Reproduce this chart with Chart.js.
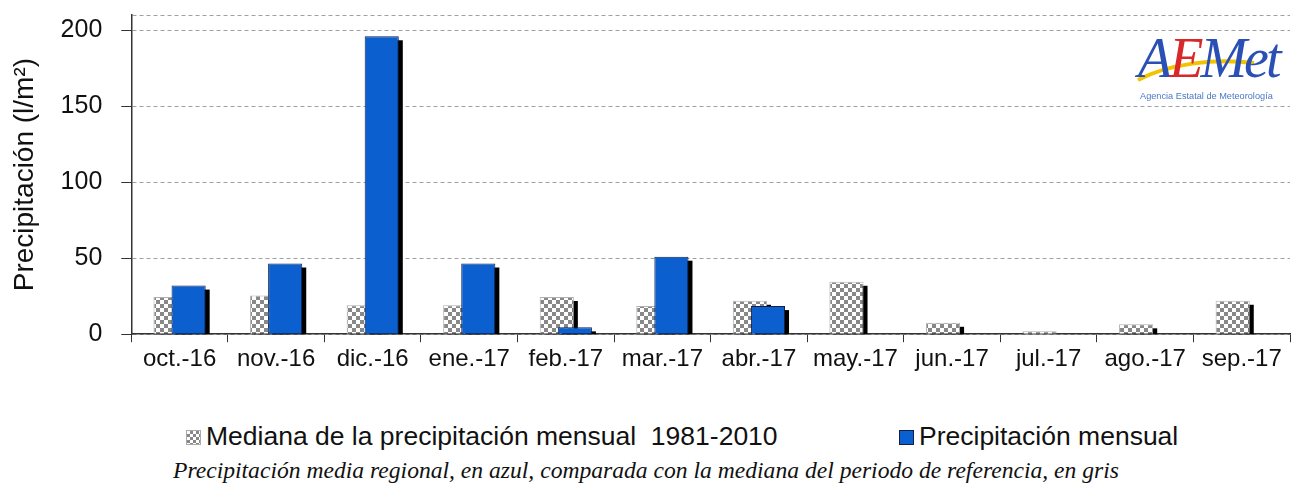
<!DOCTYPE html>
<html>
<head>
<meta charset="utf-8">
<script src="https://cdn.jsdelivr.net/npm/chart.js@4.4.1/dist/chart.umd.min.js"></script>
<style>
  html, body { margin: 0; padding: 0; background: #fff; }
  #wrap { position: relative; width: 1292px; height: 488px; overflow: hidden; font-family: 'Liberation Sans', Arial, sans-serif; }
  #chartPrecip { position: absolute; left: 0; top: 0; }
  #logo { position: absolute; left: 1134px; top: 28px; width: 156px; height: 76px; }
  #logo .word { position: absolute; left: 4px; top: -2px; font: italic 56px 'Liberation Serif', serif; letter-spacing: -3px; }
  #logo .sub { position: absolute; left: 6px; top: 63px; font-size: 9.2px; color: #4a78c4; white-space: nowrap; }
  #logo svg { position: absolute; left: 0; top: 0; }
  .leg { position: absolute; top: 421px; font-size: 26.5px; color: #111; white-space: nowrap; line-height: 30px; }
  .sw { display: inline-block; width: 15px; height: 15px; margin-right: 5px; vertical-align: 0px; box-sizing: border-box; }
  .sw.grey { border: 1px solid #aaa; background-image: conic-gradient(#888 25%, #fff 0 50%, #888 0 75%, #fff 0); background-size: 6px 6px; }
  .sw.blue { background: #0b5fcf; border: 1px solid #10204a; }
  #caption { position: absolute; top: 457px; left: 0; width: 1292px; text-align: center; font: italic 23.6px 'Liberation Serif', 'Times New Roman', serif; color: #111; }
</style>
</head>
<body>
<div id="wrap">
  <canvas id="chartPrecip" width="1292" height="380"></canvas>
  <div id="logo">
    <svg width="156" height="76"><path d="M4 52 C 34 36, 80 30, 120 35" stroke="#f2c400" stroke-width="4" fill="none"/></svg>
    <div class="word"><span style="color:#2a4fb5">A</span><span style="color:#d8282a">E</span><span style="color:#2a4fb5">Met</span></div>
    <div class="sub">Agencia Estatal de Meteorología</div>
  </div>
  <div class="leg" style="left:186px"><span class="sw grey"></span>Mediana de la precipitación mensual&nbsp; 1981-2010</div>
  <div class="leg" style="left:899px"><span class="sw blue"></span>Precipitación mensual</div>
  <div id="caption">Precipitación media regional, en azul, comparada con la mediana del periodo de referencia, en gris</div>
</div>
<script>
const labels = ['oct.-16', 'nov.-16', 'dic.-16', 'ene.-17', 'feb.-17', 'mar.-17',
  'abr.-17', 'may.-17', 'jun.-17', 'jul.-17', 'ago.-17', 'sep.-17'];
const mediana = [24.5, 25.5, 19, 19, 24.5, 18.5, 22, 34.5, 7.5, 2, 6.5, 22];
const mensual = [32, 46.5, 196, 46.5, 4.5, 51, 18.5, 0, 0, 0, 0, 0];
const yTicks = [0, 50, 100, 150, 200];
const Y_MAX = 210;

const FONT = "'Liberation Sans', Arial, sans-serif";

// checker pattern for the median bars
const pc = document.createElement('canvas');
pc.width = 8; pc.height = 8;
const pctx = pc.getContext('2d');
pctx.fillStyle = '#fff'; pctx.fillRect(0, 0, 8, 8);
pctx.fillStyle = '#888';
pctx.fillRect(0, 0, 4, 4); pctx.fillRect(4, 4, 4, 4);
const checker = pctx.createPattern(pc, 'repeat');

// draws grey first, blue on top, each with a hard black drop shadow
const barShadow = {
  id: 'barShadow',
  beforeDatasetsDraw(chart) {
    const ctx = chart.ctx, a = chart.chartArea;
    ctx.save();
    ctx.beginPath();
    ctx.rect(a.left, a.top, a.right - a.left, a.bottom - a.top);
    ctx.clip();
    [0, 1].forEach(i => {
      const meta = chart.getDatasetMeta(i);
      ctx.fillStyle = '#000';
      meta.data.forEach(bar => {
        const p = bar.getProps(['x', 'y', 'base', 'width'], true);
        if (p.base - p.y < 1) return;
        ctx.fillRect(p.x - p.width / 2 + 4, p.y + 4, p.width, p.base - p.y);
      });
      meta.controller.draw();
    });
    ctx.restore();
    return false;
  }
};

const data = {
  labels: labels,
  datasets: [{
    label: 'Mediana de la precipitación mensual  1981-2010',
    data: mediana,
    backgroundColor: checker,
    borderColor: '#b0b0b0',
    borderWidth: 1,
    borderSkipped: 'bottom'
  }, {
    label: 'Precipitación mensual',
    data: mensual,
    backgroundColor: c => (c.raw ? '#0b5fcf' : 'transparent'),
    borderColor: '#10204a',
    borderWidth: c => (c.raw ? 1 : 0),
    borderSkipped: 'bottom'
  }]
};

const config = {
  type: 'bar',
  data: data,
  options: {
    responsive: false,
    animation: false,
    categoryPercentage: 0.374,
    barPercentage: 1.89,
    layout: { padding: { left: 8, right: 2, top: 15, bottom: 3 } },
    scales: {
      x: {
        z: 1,
        grid: {
          display: true,
          drawOnChartArea: false,
          drawTicks: true,
          tickLength: 8,
          tickColor: '#333'
        },
        border: { color: '#333', width: 1.5 },
        ticks: {
          color: '#111',
          padding: 3,
          maxRotation: 0,
          autoSkip: false,
          font: { family: FONT, size: 24 }
        }
      },
      y: {
        min: 0,
        max: Y_MAX,
        afterBuildTicks: s => { s.ticks = yTicks.concat([Y_MAX]).map(v => ({ value: v })); },
        afterFit: s => { s.paddingTop = 0; },
        ticks: {
          padding: 19,
          color: '#111',
          font: { family: FONT, size: 25, lineHeight: 1 },
          callback: v => (yTicks.includes(v) ? v : '')
        },
        grid: {
          color: '#a0a0a0',
          tickLength: 10,
          tickColor: c => (yTicks.includes(c.tick.value) ? '#333' : 'transparent')
        },
        border: { color: '#333', width: 1.5, dash: [4, 3] },
        title: {
          display: true,
          text: 'Precipitación (l/m²)',
          color: '#111',
          padding: { top: 0, bottom: 0 },
          font: { family: FONT, size: 28 }
        }
      }
    },
    plugins: {
      legend: { display: false },
      tooltip: { enabled: false }
    }
  },
  plugins: [barShadow]
};

const chartPrecip = new Chart(document.getElementById('chartPrecip'), config);
</script>
</body>
</html>
